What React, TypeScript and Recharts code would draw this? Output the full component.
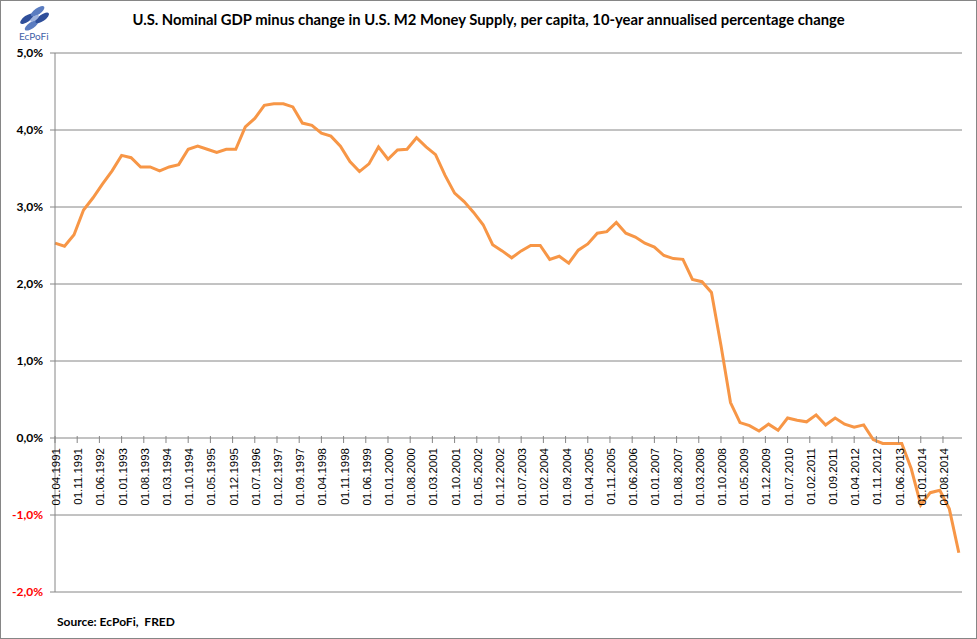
import { LineChart, Line, XAxis, YAxis, CartesianGrid } from "recharts";

// quarterly values, 01.04.1991 .. 01.01.2015 (10y annualised % change)
const values = [
  2.53, 2.49, 2.64, 2.96, 3.12, 3.3, 3.47, 3.67, 3.64, 3.52, 3.52, 3.47,
  3.52, 3.55, 3.75, 3.79, 3.75, 3.71, 3.75, 3.75, 4.04, 4.15, 4.32, 4.34,
  4.34, 4.3, 4.09, 4.06, 3.96, 3.92, 3.79, 3.59, 3.46, 3.56, 3.78, 3.62,
  3.74, 3.75, 3.9, 3.78, 3.68, 3.41, 3.18, 3.07, 2.93, 2.77, 2.51, 2.43,
  2.34, 2.43, 2.5, 2.5, 2.32, 2.36, 2.27, 2.44, 2.52, 2.66, 2.68, 2.8,
  2.66, 2.61, 2.53, 2.48, 2.37, 2.33, 2.32, 2.06, 2.03, 1.89, 1.2, 0.46,
  0.2, 0.16, 0.09, 0.18, 0.1, 0.26, 0.23, 0.21, 0.3, 0.17, 0.26, 0.18,
  0.14, 0.17, -0.02, -0.07, -0.07, -0.07, -0.4, -0.87, -0.71, -0.68, -0.92,
  -1.49,
];

const xTickLabels = [
  "01.04.1991", "01.11.1991", "01.06.1992", "01.01.1993", "01.08.1993",
  "01.03.1994", "01.10.1994", "01.05.1995", "01.12.1995", "01.07.1996",
  "01.02.1997", "01.09.1997", "01.04.1998", "01.11.1998", "01.06.1999",
  "01.01.2000", "01.08.2000", "01.03.2001", "01.10.2001", "01.05.2002",
  "01.12.2002", "01.07.2003", "01.02.2004", "01.09.2004", "01.04.2005",
  "01.11.2005", "01.06.2006", "01.01.2007", "01.08.2007", "01.03.2008",
  "01.10.2008", "01.05.2009", "01.12.2009", "01.07.2010", "01.02.2011",
  "01.09.2011", "01.04.2012", "01.11.2012", "01.06.2013", "01.01.2014",
  "01.08.2014",
];

const yTicks = [-2, -1, 0, 1, 2, 3, 4, 5];

// months since 01.04.1991, one point per quarter
const data = values.map((v, i) => ({ m: i * 3, v }));
const xTicks = xTickLabels.map((_, i) => i * 7);

const W = 977;
const H = 639;
const xAxisH = 10;
const margin = { top: 53, right: 15, bottom: 37, left: 0 };
const yMin = -2;
const yMax = 5;
const plotH = H - margin.top - margin.bottom - xAxisH;
const zeroY = margin.top + (plotH * yMax) / (yMax - yMin);

const grey = "#868686";

function XTick(props: any) {
  const { x, payload } = props;
  const label = xTickLabels[Math.round(payload.value / 7)];
  return (
    <g>
      <line x1={x} x2={x} y1={zeroY - 2} y2={zeroY + 5} stroke={grey} />
      <text
        transform={`translate(${x + 5},${zeroY + 10}) rotate(-90)`}
        textAnchor="end"
        fontFamily="'Liberation Sans', Arial, sans-serif"
        fontSize={11.5}
        fill="#000"
      >
        {label}
      </text>
    </g>
  );
}

function YTick(props: any) {
  const { x, y, payload } = props;
  const v = payload.value as number;
  return (
    <text
      x={x - 5}
      y={y}
      dy={4}
      textAnchor="end"
      fontFamily="Lato, sans-serif"
      fontWeight="bold"
      fontSize={12}
      fill={v < 0 ? "#ff0000" : "#000"}
    >
      {v.toFixed(1).replace(".", ",") + "%"}
    </text>
  );
}

function Logo() {
  return (
    <svg width={40} height={30} style={{ position: "absolute", left: 15, top: 3 }}>
      <g transform="rotate(-35 20 15)">
        <ellipse cx={13} cy={11} rx={8} ry={3.2} fill="#2f4f9a" />
        <ellipse cx={26} cy={11} rx={8} ry={3.2} fill="#5a7cc0" />
        <ellipse cx={13} cy={19} rx={8} ry={3.2} fill="#5a7cc0" />
        <ellipse cx={26} cy={19} rx={8} ry={3.2} fill="#2f4f9a" />
        <ellipse cx={19.5} cy={15} rx={5} ry={2} fill="#9fb3dd" />
      </g>
    </svg>
  );
}

export default function App() {
  return (
    <div
      style={{
        position: "absolute",
        left: 0,
        top: 0,
        width: W,
        height: H,
        background: "#fff",
      }}
    >
      <LineChart width={W} height={H} data={data} margin={margin}>
        <CartesianGrid vertical={false} stroke={grey} strokeWidth={1} />
        <XAxis
          dataKey="m"
          type="number"
          domain={[0, 286]}
          ticks={xTicks}
          interval={0}
          height={xAxisH}
          axisLine={false}
          tickLine={false}
          tick={<XTick />}
        />
        <YAxis
          width={55}
          domain={[yMin, yMax]}
          ticks={yTicks}
          interval={0}
          tickSize={5}
          axisLine={{ stroke: grey }}
          tickLine={{ stroke: grey }}
          tick={<YTick />}
        />
        <Line
          type="linear"
          dataKey="v"
          stroke="#F79646"
          strokeWidth={3}
          dot={false}
          isAnimationActive={false}
        />
      </LineChart>
      <Logo />
      <div
        style={{
          position: "absolute",
          left: 19,
          top: 30,
          fontFamily: "Lato, sans-serif",
          fontSize: 10,
          color: "#3f62a8",
        }}
      >
        EcPoFi
      </div>
      <div
        style={{
          position: "absolute",
          left: 0,
          top: 10,
          width: W,
          textAlign: "center",
          fontFamily: "Lato, sans-serif",
          fontWeight: "bold",
          fontSize: 14.8,
          color: "#000",
        }}
      >
        U.S. Nominal GDP minus change in U.S. M2 Money Supply, per capita, 10-year annualised percentage change
      </div>
      <div
        style={{
          position: "absolute",
          left: 57,
          top: 614,
          fontFamily: "Lato, sans-serif",
          fontWeight: "bold",
          fontSize: 12,
          color: "#000",
        }}
      >
        Source: EcPoFi,&nbsp; FRED
      </div>
      <div
        style={{
          position: "absolute",
          left: 0,
          top: 0,
          width: W,
          height: H,
          boxSizing: "border-box",
          border: `1px solid ${grey}`,
          pointerEvents: "none",
        }}
      />
    </div>
  );
}
